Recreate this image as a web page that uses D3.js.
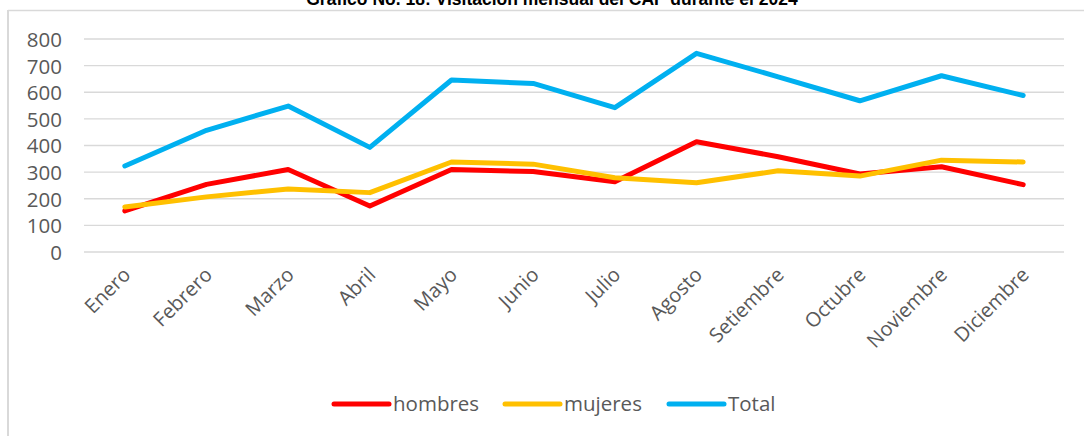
<!DOCTYPE html>
<html>
<head>
<meta charset="utf-8">
<script src="https://cdn.jsdelivr.net/npm/d3@7"></script>
<style>
  html, body { margin: 0; padding: 0; background: #fff; }
  svg { display: block; }
</style>
</head>
<body>
<svg id="chart" width="1084" height="436"></svg>
<script>
const categories = ["Enero","Febrero","Marzo","Abril","Mayo","Junio","Julio","Agosto","Setiembre","Octubre","Noviembre","Diciembre"];
const hombres = [154, 254, 310, 173, 310, 302, 264, 414, 358, 293, 320, 253];
const mujeres = [169, 207, 237, 223, 338, 330, 279, 260, 305, 285, 345, 338];
const total   = [323, 457, 548, 393, 646, 633, 542, 746, 658, 568, 662, 588];
const seriesNames = ["hombres", "mujeres", "Total"];
const yTicks = [0, 100, 200, 300, 400, 500, 600, 700, 800];
const titleText = "Gráfico No. 18: Visitación mensual del CAP durante el 2024";

const colors = { hombres: "#FF0000", mujeres: "#FFC000", Total: "#00B0F0" };
const series = [
  { name: seriesNames[0], values: hombres },
  { name: seriesNames[1], values: mujeres },
  { name: seriesNames[2], values: total }
];

const svg = d3.select("#chart");
const font = "'Open Sans', Lato, sans-serif";
const textColor = "#595959";

// frame
svg.append("line").attr("x1", 8).attr("x2", 1084).attr("y1", 10.5).attr("y2", 10.5)
  .attr("stroke", "#D9D9D9").attr("stroke-width", 1.5);
svg.append("line").attr("x1", 8).attr("x2", 8).attr("y1", 10).attr("y2", 436)
  .attr("stroke", "#D9D9D9").attr("stroke-width", 2);

// title (cut at top, as in the reference)
svg.append("text").attr("x", 552).attr("y", 4.5)
  .attr("text-anchor", "middle")
  .attr("font-family", "'Liberation Sans', Arial, sans-serif")
  .attr("font-weight", "bold").attr("font-size", 17.5)
  .attr("fill", "#000").text(titleText);

const x = d3.scaleBand().domain(categories).range([84, 1064]).padding(0);
const y = d3.scaleLinear().domain([0, 800]).range([252, 39]);

// grid
svg.append("g").selectAll("line").data(yTicks).join("line")
  .attr("x1", 84).attr("x2", 1064)
  .attr("y1", d => y(d)).attr("y2", d => y(d))
  .attr("stroke", "#D9D9D9").attr("stroke-width", 1.3);

// y axis
const yAxis = d3.axisLeft(y).tickValues(yTicks).tickSize(0).tickPadding(0);
const gy = svg.append("g").attr("transform", "translate(62,0)").call(yAxis);
gy.select(".domain").remove();
gy.selectAll("text").attr("font-family", font).attr("font-size", 20.5)
  .attr("fill", textColor).attr("dy", "0.36em");

// x axis
const xAxis = d3.axisBottom(x).tickSize(0).tickPadding(0);
const gx = svg.append("g").attr("transform", "translate(0,252)").call(xAxis);
gx.select(".domain").remove();
gx.selectAll(".tick text")
  .attr("font-family", font).attr("font-size", 20).attr("fill", textColor)
  .attr("text-anchor", "end").attr("y", 0).attr("dy", 0)
  .attr("transform", "translate(7,24) rotate(-45)");

// lines
const line = d3.line()
  .x((d, i) => x(categories[i]) + x.bandwidth() / 2)
  .y(d => y(d));

svg.append("g").selectAll("path").data(series).join("path")
  .attr("d", d => line(d.values))
  .attr("fill", "none")
  .attr("stroke", d => colors[d.name])
  .attr("stroke-width", 5)
  .attr("stroke-linejoin", "round")
  .attr("stroke-linecap", "round");

// legend
const legendItems = [
  { name: "hombres", x1: 334, x2: 389, tx: 393 },
  { name: "mujeres", x1: 505, x2: 560, tx: 564 },
  { name: "Total", x1: 669, x2: 724, tx: 728 }
];
const lg = svg.append("g");
lg.selectAll("line").data(legendItems).join("line")
  .attr("x1", d => d.x1).attr("x2", d => d.x2)
  .attr("y1", 404).attr("y2", 404)
  .attr("stroke", d => colors[d.name]).attr("stroke-width", 5)
  .attr("stroke-linecap", "round");
lg.selectAll("text").data(legendItems).join("text")
  .attr("x", d => d.tx).attr("y", 404).attr("dy", "0.35em")
  .attr("font-family", font).attr("font-size", 20.5).attr("fill", textColor)
  .text(d => d.name);
</script>
</body>
</html>
